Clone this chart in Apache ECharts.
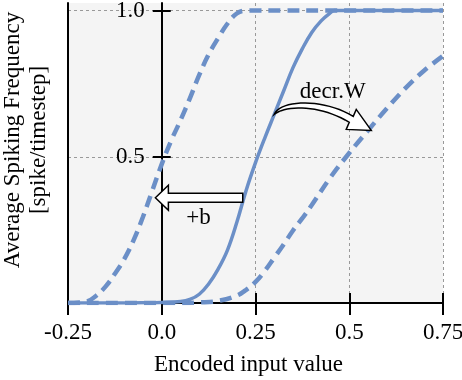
<!DOCTYPE html>
<html>
<head>
<meta charset="utf-8">
<script src="https://cdn.jsdelivr.net/npm/echarts@6/dist/echarts.min.js"></script>
<style>
  html, body { margin: 0; padding: 0; background: #fff; }
  #freqChart { width: 462px; height: 380px; }
</style>
</head>
<body>
<div id="freqChart"></div>
<script>
// axis ticks
const xTicks = [-0.25, 0, 0.25, 0.5, 0.75];
const xTickLabels = ['-0.25', '0.0', '0.25', '0.5', '0.75'];
const yTicks = [0.5, 1.0];
const yTickLabels = ['0.5', '1.0'];

// base neuron (solid)
const baseX = [-0.25, -0.15, -0.05, 0, 0.05, 0.075, 0.1, 0.125, 0.15, 0.175, 0.2, 0.225, 0.25, 0.275, 0.3, 0.325, 0.35, 0.375, 0.4, 0.425, 0.45, 0.46, 0.5, 0.6, 0.75];
const baseY = [0, 0, 0.001, 0.002, 0.005, 0.012, 0.03, 0.065, 0.115, 0.18, 0.275, 0.385, 0.48, 0.565, 0.645, 0.725, 0.805, 0.87, 0.925, 0.965, 0.993, 1.0, 1.0, 1.0, 1.0];

// +b (dashed, shifted left)
const biasX = [-0.25, -0.2, -0.175, -0.15, -0.125, -0.1, -0.075, -0.05, -0.025, 0, 0.025, 0.05, 0.075, 0.1, 0.125, 0.15, 0.175, 0.2, 0.225, 0.25, 0.5, 0.75];
const biasY = [0, 0.005, 0.025, 0.056, 0.1, 0.15, 0.215, 0.295, 0.385, 0.475, 0.555, 0.625, 0.7, 0.78, 0.85, 0.905, 0.955, 0.99, 1.0, 1.0, 1.0, 1.0];

// decr. W (dashed, flatter)
const weightX = [-0.25, 0.05, 0.1, 0.15, 0.2, 0.225, 0.25, 0.275, 0.3, 0.325, 0.35, 0.375, 0.4, 0.45, 0.5, 0.55, 0.6, 0.65, 0.7, 0.75];
const weightY = [0, 0, 0.002, 0.007, 0.025, 0.045, 0.072, 0.11, 0.155, 0.2, 0.248, 0.29, 0.335, 0.43, 0.513, 0.59, 0.665, 0.735, 0.795, 0.845];

const font = "'Liberation Serif', 'Times New Roman', serif";
const blue = '#6b8fc7';
const gridLeft = 68;

function pairs (xs, ys) {
  return xs.map((x, i) => [x, ys[i]]);
}

let chart = echarts.init(document.getElementById('freqChart'));

let option = {
  animation: false,
  grid: {
    left: gridLeft,
    right: 19,
    top: 3,
    bottom: 77,
    outerBoundsMode: 'none',
    containLabel: false,
    show: true,
    backgroundColor: '#f4f4f4',
    borderWidth: 0
  },
  xAxis: [
    {
      type: 'value',
      position: 'bottom',
      min: -0.25,
      max: 0.75,
      interval: 0.25,
      name: 'Encoded input value',
      nameLocation: 'middle',
      nameGap: 50,
      nameTextStyle: { fontFamily: font, fontSize: 23, color: '#000', padding: [0, 14, 0, 0] },
      axisLine: { onZero: false, lineStyle: { color: '#000', width: 2 } },
      axisTick: { length: 12, lineStyle: { color: '#000', width: 2 } },
      axisLabel: {
        margin: 18,
        fontFamily: font,
        fontSize: 23,
        color: '#000',
        formatter: (v) => {
          let i = xTicks.findIndex(t => Math.abs(t - v) < 1e-9);
          return i < 0 ? '' : xTickLabels[i];
        }
      },
      splitLine: { show: true, lineStyle: { type: [3, 3], color: '#999', width: 1 } }
    },
    { // inner half of the crossing ticks
      type: 'value',
      position: 'bottom',
      min: -0.25,
      max: 0.75,
      interval: 0.25,
      axisLine: { show: false, onZero: false },
      axisTick: { inside: true, length: 10, lineStyle: { color: '#000', width: 2 } },
      axisLabel: { show: false },
      splitLine: { show: false }
    }
  ],
  yAxis: [
    {
      type: 'value',
      position: 'left',
      min: 0,
      max: 1.026,
      axisLine: { onZero: false, lineStyle: { color: '#000', width: 2 } },
      axisTick: { length: 9, customValues: yTicks, lineStyle: { color: '#000', width: 2 } },
      axisLabel: {
        customValues: yTicks,
        margin: 17,
        fontFamily: font,
        fontSize: 23,
        color: '#000',
        formatter: (v) => {
          let i = yTicks.findIndex(t => Math.abs(t - v) < 1e-9);
          return i < 0 ? '' : yTickLabels[i];
        }
      },
      splitLine: { show: true, lineStyle: { type: [3, 3], color: '#999', width: 1 } }
    },
    {
      type: 'value',
      position: 'left',
      min: 0,
      max: 1.026,
      axisLine: { show: false, onZero: false },
      axisTick: { inside: true, length: 9, customValues: yTicks, lineStyle: { color: '#000', width: 2 } },
      axisLabel: { show: false },
      splitLine: { show: false }
    },
    { // left frame + axis title
      type: 'value',
      position: 'left',
      min: 0,
      max: 1.026,
      name: 'Average Spiking Frequency\n[spike/timestep]',
      nameLocation: 'middle',
      nameRotate: 90,
      nameGap: 16,
      nameTextStyle: { fontFamily: font, fontSize: 23, lineHeight: 26, color: '#000', padding: [0, 0, 0, 26] },
      axisLine: { show: true, onZero: false, lineStyle: { color: '#000', width: 2 } },
      axisTick: { show: false },
      axisLabel: { show: false },
      splitLine: { show: false }
    }
  ],
  series: [
    {
      type: 'line',
      data: pairs(weightX, weightY),
      showSymbol: false,
      smooth: 0.4,
      lineStyle: { color: blue, width: 4.5, type: [12, 7] }
    },
    {
      type: 'line',
      data: pairs(biasX, biasY),
      showSymbol: false,
      smooth: 0.4,
      lineStyle: { color: blue, width: 4.5, type: [12, 7] }
    },
    {
      type: 'line',
      data: pairs(baseX, baseY),
      showSymbol: false,
      smooth: 0.4,
      lineStyle: { color: blue, width: 3.5 }
    }
  ]
};

chart.setOption(option);

// move the value axis (line, ticks and labels) to x = 0
let toPx = (p) => chart.convertToPixel({ xAxisIndex: 0, yAxisIndex: 0 }, p);
let zeroShift = toPx([0, 0])[0] - gridLeft;
chart.setOption({
  yAxis: [{ offset: -zeroShift }, { offset: -zeroShift }, {}]
});

// annotations, anchored in data space
let tip = toPx([-0.017, 0.36]);
let tail = toPx([0.216, 0.36]);
let s = toPx([0.30, 0.645]);
let bLabel = toPx([0.098, 0.29]);
let wLabel = toPx([0.456, 0.722]);

// sample a cubic bezier given relative offsets from s
function cubic (p0, p1, p2, p3, n) {
  let out = [];
  for (let i = 1; i <= n; i++) {
    let t = i / n, u = 1 - t;
    out.push([
      s[0] + u * u * u * p0[0] + 3 * u * u * t * p1[0] + 3 * u * t * t * p2[0] + t * t * t * p3[0],
      s[1] + u * u * u * p0[1] + 3 * u * u * t * p1[1] + 3 * u * t * t * p2[1] + t * t * t * p3[1]
    ]);
  }
  return out;
}

let curvedPts = [[s[0], s[1]]]
  .concat(cubic([0, 0], [6, -15], [50, -16], [79, 2], 20))
  .concat([[s[0] + 82, s[1] - 5], [s[0] + 97, s[1] + 16], [s[0] + 72, s[1] + 15], [s[0] + 75, s[1] + 8]])
  .concat(cubic([75, 8], [48, -9], [12, -10], [0, 0], 20));

chart.setOption({
  graphic: [
    {
      type: 'polygon',
      z: 100,
      shape: {
        points: [
          [tip[0], tip[1]],
          [tip[0] + 13, tip[1] - 12.5],
          [tip[0] + 13, tip[1] - 4.5],
          [tail[0], tip[1] - 4.5],
          [tail[0], tip[1] + 4.5],
          [tip[0] + 13, tip[1] + 4.5],
          [tip[0] + 13, tip[1] + 12.5]
        ]
      },
      style: { fill: '#fff', stroke: '#000', lineWidth: 1.5 }
    },
    {
      type: 'polygon',
      z: 100,
      shape: { points: curvedPts },
      style: { fill: '#fff', stroke: '#000', lineWidth: 1.5 }
    },
    {
      type: 'text',
      z: 100,
      x: bLabel[0],
      y: bLabel[1],
      style: { text: '+b', font: '23px ' + font, fill: '#000', align: 'center', verticalAlign: 'middle' }
    },
    {
      type: 'text',
      z: 100,
      x: wLabel[0],
      y: wLabel[1],
      style: { text: 'decr.W', font: '23px ' + font, fill: '#000', align: 'center', verticalAlign: 'middle' }
    }
  ]
});
</script>
</body>
</html>
